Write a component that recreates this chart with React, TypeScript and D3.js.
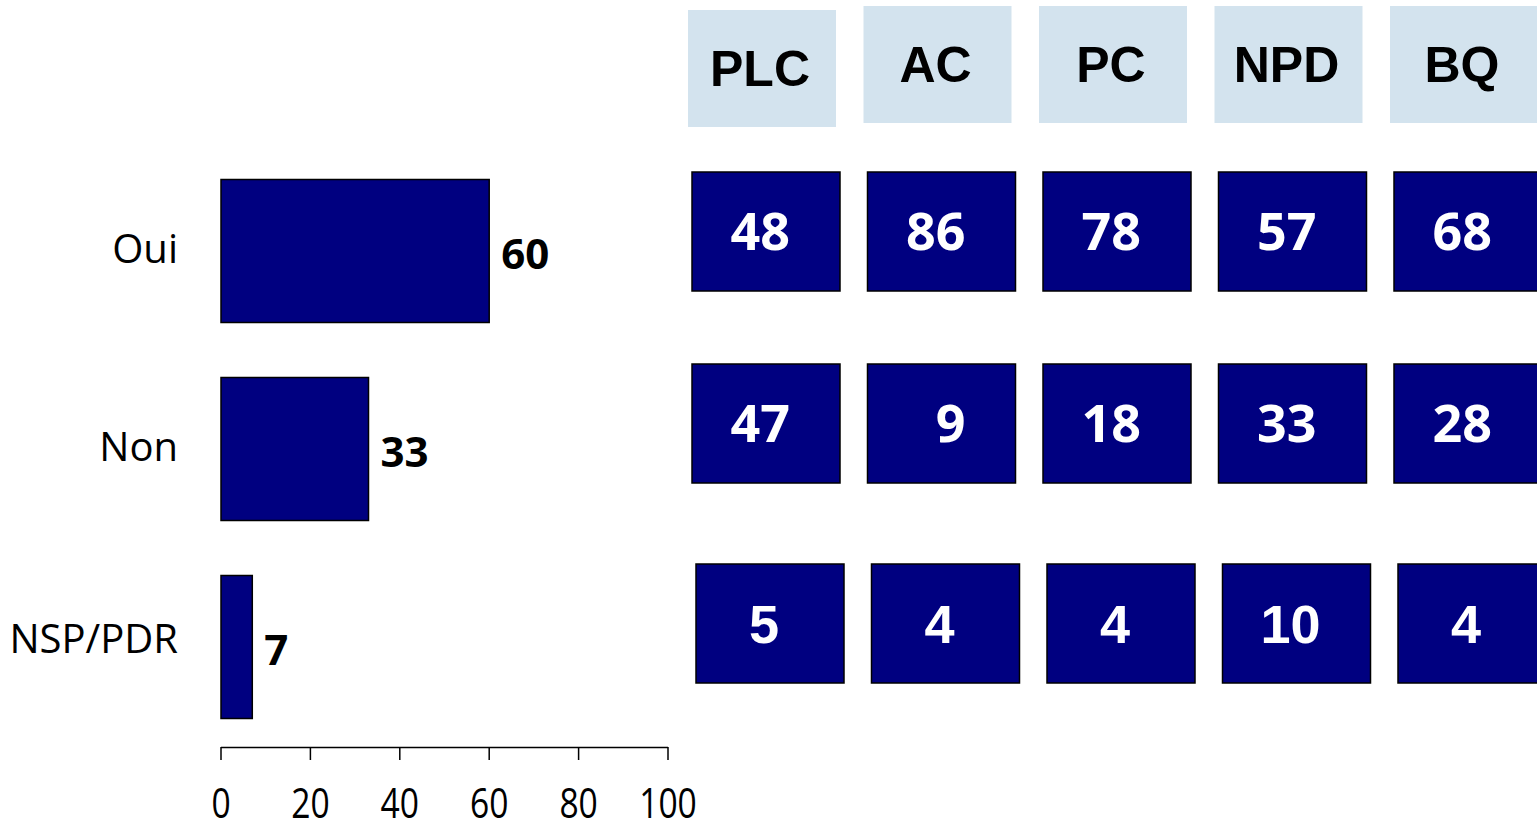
import React from "react";
import * as d3 from "d3";

const categories = ["Oui", "Non", "NSP/PDR"];
const totals = [60, 33, 7];
const parties = ["PLC", "AC", "PC", "NPD", "BQ"];
const ouiByParty = [48, 86, 78, 57, 68];
const nonByParty = [47, 9, 18, 33, 28];
const nspByParty = [5, 4, 4, 10, 4];
const xTicks = [0, 20, 40, 60, 80, 100];

const W = 1537;
const H = 821;
const NAVY = "#000080";
const HEADER = "#d3e3ee";

export default function App() {
  const rows = [ouiByParty, nonByParty, nspByParty];

  // left bar chart
  const x = d3.scaleLinear().domain([0, 100]).range([221, 668]);
  const y = d3.scalePoint<string>().domain(categories).range([251, 647]);
  const barH = 143;

  // right table
  const boxW = 148;
  const step = 175.5;
  const col = d3
    .scaleBand<string>()
    .domain(parties)
    .range([692, 692 + 4 * step + boxW])
    .paddingInner((step - boxW) / step)
    .paddingOuter(0);
  const rowY = d3.scaleOrdinal<string, number>().domain(categories).range([172, 364, 564]);
  const rowShift = d3.scaleOrdinal<string, number>().domain(categories).range([0, 0, 4]);
  const boxH = 119;

  return (
    <svg width={W} height={H} style={{ position: "absolute", left: 0, top: 0, background: "#fff" }}>
      {/* Left bars */}
      {categories.map((c, i) => {
        const cy = y(c)!;
        return (
          <g key={c}>
            <rect x={x(0)} y={cy - barH / 2} width={x(totals[i]) - x(0)} height={barH} fill={NAVY} stroke="#000" strokeWidth={1.5} />
            <text x={178} y={cy - (i === 2 ? 10 : 4)} textAnchor="end" dominantBaseline="central" fontFamily="'Open Sans', 'Noto Sans', sans-serif" fontSize={40} fill="#000">
              {c}
            </text>
            <text x={x(totals[i]) + 12} y={cy + 1} dominantBaseline="central" fontFamily="'Open Sans', 'Noto Sans', sans-serif" fontWeight={700} fontSize={42} fill="#000">
              {totals[i]}
            </text>
          </g>
        );
      })}

      {/* Axis */}
      <g>
        <line x1={x(0)} x2={x(100)} y1={747.5} y2={747.5} stroke="#000" strokeWidth={1.5} />
        {xTicks.map((t) => (
          <g key={t}>
            <line x1={x(t)} x2={x(t)} y1={747} y2={760} stroke="#000" strokeWidth={1.5} />
            <text transform={`translate(${x(t)},818) scale(0.8,1)`} textAnchor="middle" fontFamily="'Open Sans', 'Noto Sans', sans-serif" fontSize={42} fill="#000">
              {t}
            </text>
          </g>
        ))}
      </g>

      {/* Header boxes */}
      {parties.map((p, j) => {
        const bx = col(p)! - 4;
        const by = j === 0 ? 10 : 6;
        return (
          <g key={p}>
            <rect x={bx} y={by} width={boxW} height={117} fill={HEADER} />
            <text x={bx + boxW / 2 - 2} y={by + 76} textAnchor="middle" fontFamily="'Liberation Sans', Arial, sans-serif" fontWeight={700} fontSize={50} fill="#000">
              {p}
            </text>
          </g>
        );
      })}

      {/* Data boxes */}
      {categories.map((c, r) =>
        parties.map((p, j) => {
          const bx = col(p)! + rowShift(c);
          const by = rowY(c);
          const v = rows[r][j];
          const last = r === 2;
          return (
            <g key={c + p}>
              <rect x={bx} y={by} width={boxW} height={boxH} fill={NAVY} stroke="#000" strokeWidth={1.5} />
              {last ? (
                <text x={bx + boxW / 2 - 6} y={by + boxH / 2 + 19} textAnchor="middle" fontFamily="'Liberation Sans', Arial, sans-serif" fontWeight={700} fontSize={54} fill="#fff">
                  {v}
                </text>
              ) : (
                <text x={bx + boxW - 50} y={by + boxH / 2 + 18} textAnchor="end" fontFamily="'Open Sans', 'Noto Sans', sans-serif" fontWeight={700} fontSize={52} fill="#fff">
                  {v}
                </text>
              )}
            </g>
          );
        })
      )}
    </svg>
  );
}
